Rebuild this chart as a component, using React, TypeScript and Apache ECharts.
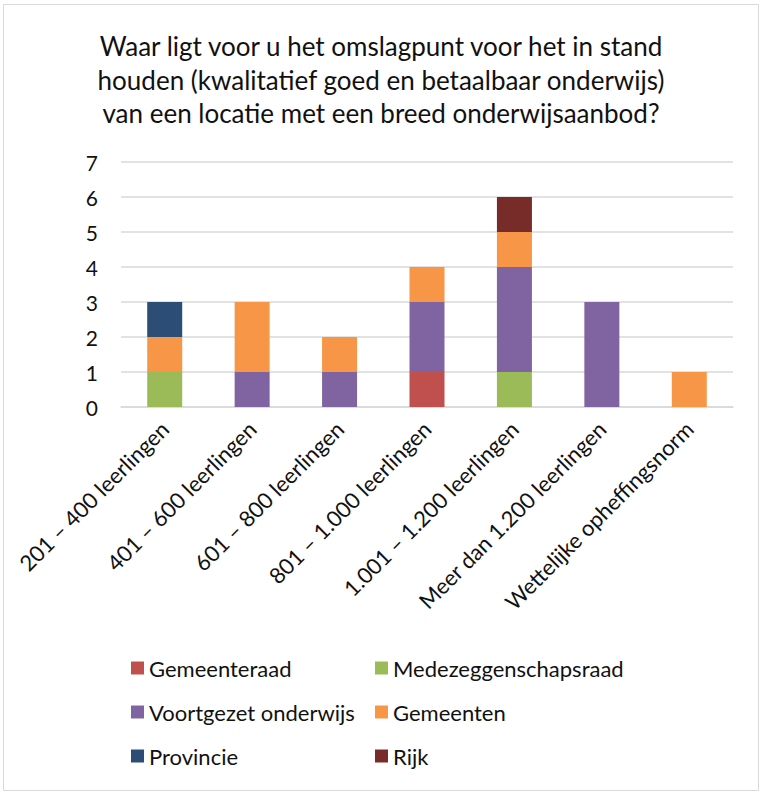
import React, { useEffect, useRef } from "react";
import * as echarts from "echarts";

const categories = [
  "201 – 400 leerlingen",
  "401 – 600 leerlingen",
  "601 – 800 leerlingen",
  "801 – 1.000 leerlingen",
  "1.001 – 1.200 leerlingen",
  "Meer dan 1.200 leerlingen",
  "Wettelijke opheffingsnorm",
];
const gemeenteraad = [0, 0, 0, 1, 0, 0, 0];
const medezeggenschapsraad = [1, 0, 0, 0, 1, 0, 0];
const voortgezetOnderwijs = [0, 1, 1, 2, 3, 3, 0];
const gemeenten = [1, 2, 1, 1, 1, 0, 1];
const provincie = [1, 0, 0, 0, 0, 0, 0];
const rijk = [0, 0, 0, 0, 1, 0, 0];
const yTicks = [0, 1, 2, 3, 4, 5, 6, 7];
const titleLines = [
  "Waar ligt voor u het omslagpunt voor het in stand",
  "houden (kwalitatief goed en betaalbaar onderwijs)",
  "van een locatie met een breed onderwijsaanbod?",
];

const seriesDefs = [
  { name: "Gemeenteraad", data: gemeenteraad, color: "#C0504D" },
  { name: "Medezeggenschapsraad", data: medezeggenschapsraad, color: "#9BBB59" },
  { name: "Voortgezet onderwijs", data: voortgezetOnderwijs, color: "#8064A2" },
  { name: "Gemeenten", data: gemeenten, color: "#F79646" },
  { name: "Provincie", data: provincie, color: "#2C4D75" },
  { name: "Rijk", data: rijk, color: "#772C2A" },
];

const FONT = "Lato, 'Open Sans', sans-serif";

export default function App() {
  const ref = useRef<HTMLDivElement>(null);
  useEffect(() => {
    if (!ref.current) return;
    const chart = echarts.init(ref.current, null, { renderer: "svg" });
    const legendText = { fontSize: 22, color: "#111", fontFamily: FONT };
    chart.setOption({
      animation: false,
      backgroundColor: "#ffffff",
      graphic: [
        {
          type: "rect",
          shape: { x: 3.5, y: 4.5, width: 755, height: 786 },
          style: { fill: "none", stroke: "#d9d9d9", lineWidth: 1 },
          silent: true,
        },
        ...titleLines.map((t, i) => ({
          type: "text",
          x: 381,
          y: 46 + i * 33.5,
          silent: true,
          style: {
            text: t,
            align: "center",
            verticalAlign: "middle",
            fontSize: 26,
            fontFamily: FONT,
            fill: "#111",
          },
        })),
      ],
      legend: [
        {
          data: ["Gemeenteraad", "Voortgezet onderwijs", "Provincie"],
          orient: "vertical",
          left: 126,
          top: 652,
          itemWidth: 13,
          itemHeight: 13,
          itemGap: 22,
          icon: "rect",
          textStyle: legendText,
        },
        {
          data: ["Medezeggenschapsraad", "Gemeenten", "Rijk"],
          orient: "vertical",
          left: 370,
          top: 652,
          itemWidth: 13,
          itemHeight: 13,
          itemGap: 22,
          icon: "rect",
          textStyle: legendText,
        },
      ],
      grid: { left: 121, right: 29, top: 162, bottom: 386, containLabel: false },
      xAxis: {
        type: "category",
        data: categories,
        axisTick: { show: false },
        axisLine: { lineStyle: { color: "#d9d9d9", width: 1.5 } },
        axisLabel: {
          rotate: 45,
          interval: 0,
          margin: 18,
          fontSize: 22,
          color: "#111",
          fontFamily: FONT,
        },
      },
      yAxis: {
        type: "value",
        min: yTicks[0],
        max: yTicks[yTicks.length - 1],
        interval: 1,
        axisLine: { show: false },
        axisTick: { show: false },
        splitLine: { lineStyle: { color: "#d9d9d9", width: 1.5 } },
        axisLabel: { fontSize: 21, color: "#111", fontFamily: FONT, margin: 23 },
      },
      series: seriesDefs.map((s) => ({
        name: s.name,
        type: "bar",
        stack: "total",
        data: s.data.map((v) => (v === 0 ? null : v)),
        barWidth: 35,
        itemStyle: { color: s.color },
      })),
    });
    return () => chart.dispose();
  }, []);
  return (
    <div
      ref={ref}
      style={{ position: "fixed", left: 0, top: 0, width: 762, height: 793 }}
    />
  );
}
